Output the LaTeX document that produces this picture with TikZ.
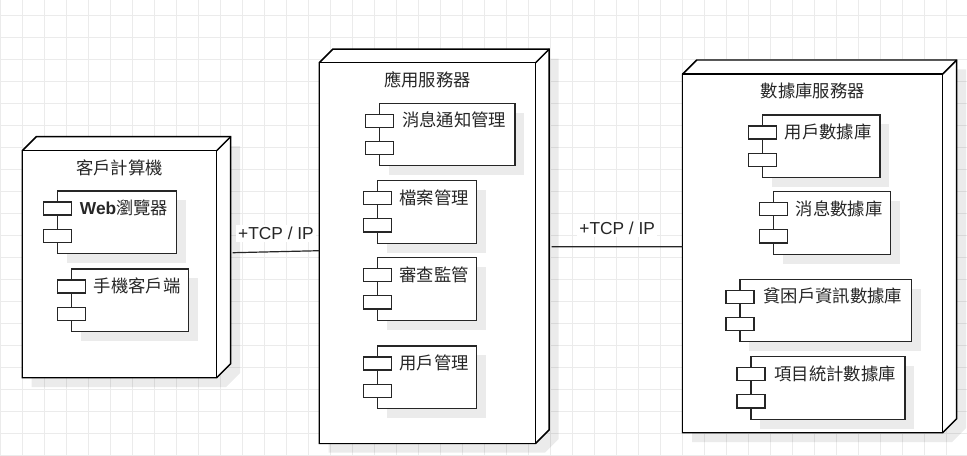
\documentclass[tikz,border=0pt]{standalone}
\usepackage{fontspec}
\setmainfont{Liberation Sans}
\newfontfamily\cjk{Noto Sans CJK TC}
\usetikzlibrary{shadows}

\begin{document}
\begin{tikzpicture}[x=0.75pt,y=-0.75pt,
  gridline/.style={draw=black!8,line width=0.75pt},
  shade3d/.style={drop shadow={shadow xshift=7pt,shadow yshift=-7pt,fill=black,opacity=.08}},
  boxshape/.style={draw=black,fill=white,line width=1.1pt,shade3d},
  face/.style={draw=black,fill=white,line width=1.1pt,anchor=north west,inner sep=0pt,outer sep=0pt},
  comp/.style={draw=black!85,fill=white,line width=0.9pt,anchor=north west,inner sep=0pt,outer sep=0pt,
    minimum height=46.9pt,shade3d},
  port/.style={draw=black!85,fill=white,line width=0.9pt,inner sep=0pt,minimum width=21pt,minimum height=9.8pt},
  title/.style={font=\cjk\fontsize{13}{15}\selectfont,text=black!85,inner sep=0pt},
  link/.style={draw=black!85,line width=0.9pt},
  tcp/.style={fill=white,inner sep=1.5pt,font=\fontsize{13}{15}\selectfont,text=black!85}]

\fill[white] (0,0) rectangle (967,455);
\useasboundingbox (0,0) rectangle (967,455);

\foreach \x in {0,22,...,968}
  \draw[gridline] (\x,0) -- (\x,455);
\foreach \y in {15,37,...,455}
  \draw[gridline] (0,\y) -- (967,\y);      %背景网格

\foreach \n/\l/\t/\r/\b/\d/\txt in {
  client/22.3/150.7/216.7/377.7/14/客戶計算機,
  app/319.3/62.7/535.7/443.3/13.5/應用服務器,
  db/682.7/74/942.7/432.7/14/數據庫服務器}
{
  \path[boxshape] (\l,\t) -- ++(\d,-\d) -- (\r+\d,\t-\d) -- (\r+\d,\b-\d) -- (\r,\b) -- (\l,\b) -- cycle;
  \node[face,minimum width={(\r-\l)*0.75},minimum height={(\b-\t)*0.75}] (\n) at (\l,\t) {};
  \draw[line width=1.1pt] (\n.north east) -- ++(\d,-\d);
  \node[title] (\n-t) at ([yshift=-12.75pt]\n.north) {\txt};
};                               %三个节点

\foreach \n/\l/\t/\r/\txt in {
  web/57.5/191/176.7/{{\rmfamily\bfseries Web}瀏覽器},
  mobile/71.7/269/188.3/手機客戶端,
  msg/379.3/103.3/515/消息通知管理,
  file/377.3/180.7/476.7/檔案管理,
  audit/377.3/257.7/476.7/審查監管,
  user/377.3/346/476.7/用戶管理,
  userdb/762.3/115/880/用戶數據庫,
  msgdb/773.3/191.7/890.7/消息數據庫,
  poordb/740/279.3/911.7/貧困戶資訊數據庫,
  projdb/751/356.7/905/項目統計數據庫}
{
  \node[comp,minimum width={(\r-\l)*0.75}] (\n) at (\l,\t) {};
  \node[port] (\n-p1) at (\l,\t+17.5) {};
  \node[port] (\n-p2) at (\l,\t+44.7) {};
  \node[title] (\n-t) at ({(\l+14+\r)/2},\t+17) {\txt};
};                               %组件

\draw[link] ([shift={(16,-11.5)}]client.east) -- node[tcp,above=7pt] (tcp1) {+TCP / IP} ([shift={(0,-2.3)}]app.west);
\draw[link] ([shift={(16,-6.3)}]app.east) -- node[tcp,above=7pt] (tcp2) {+TCP / IP} ([shift={(0,-6.7)}]db.west);   %连线
\end{tikzpicture}
\end{document}
